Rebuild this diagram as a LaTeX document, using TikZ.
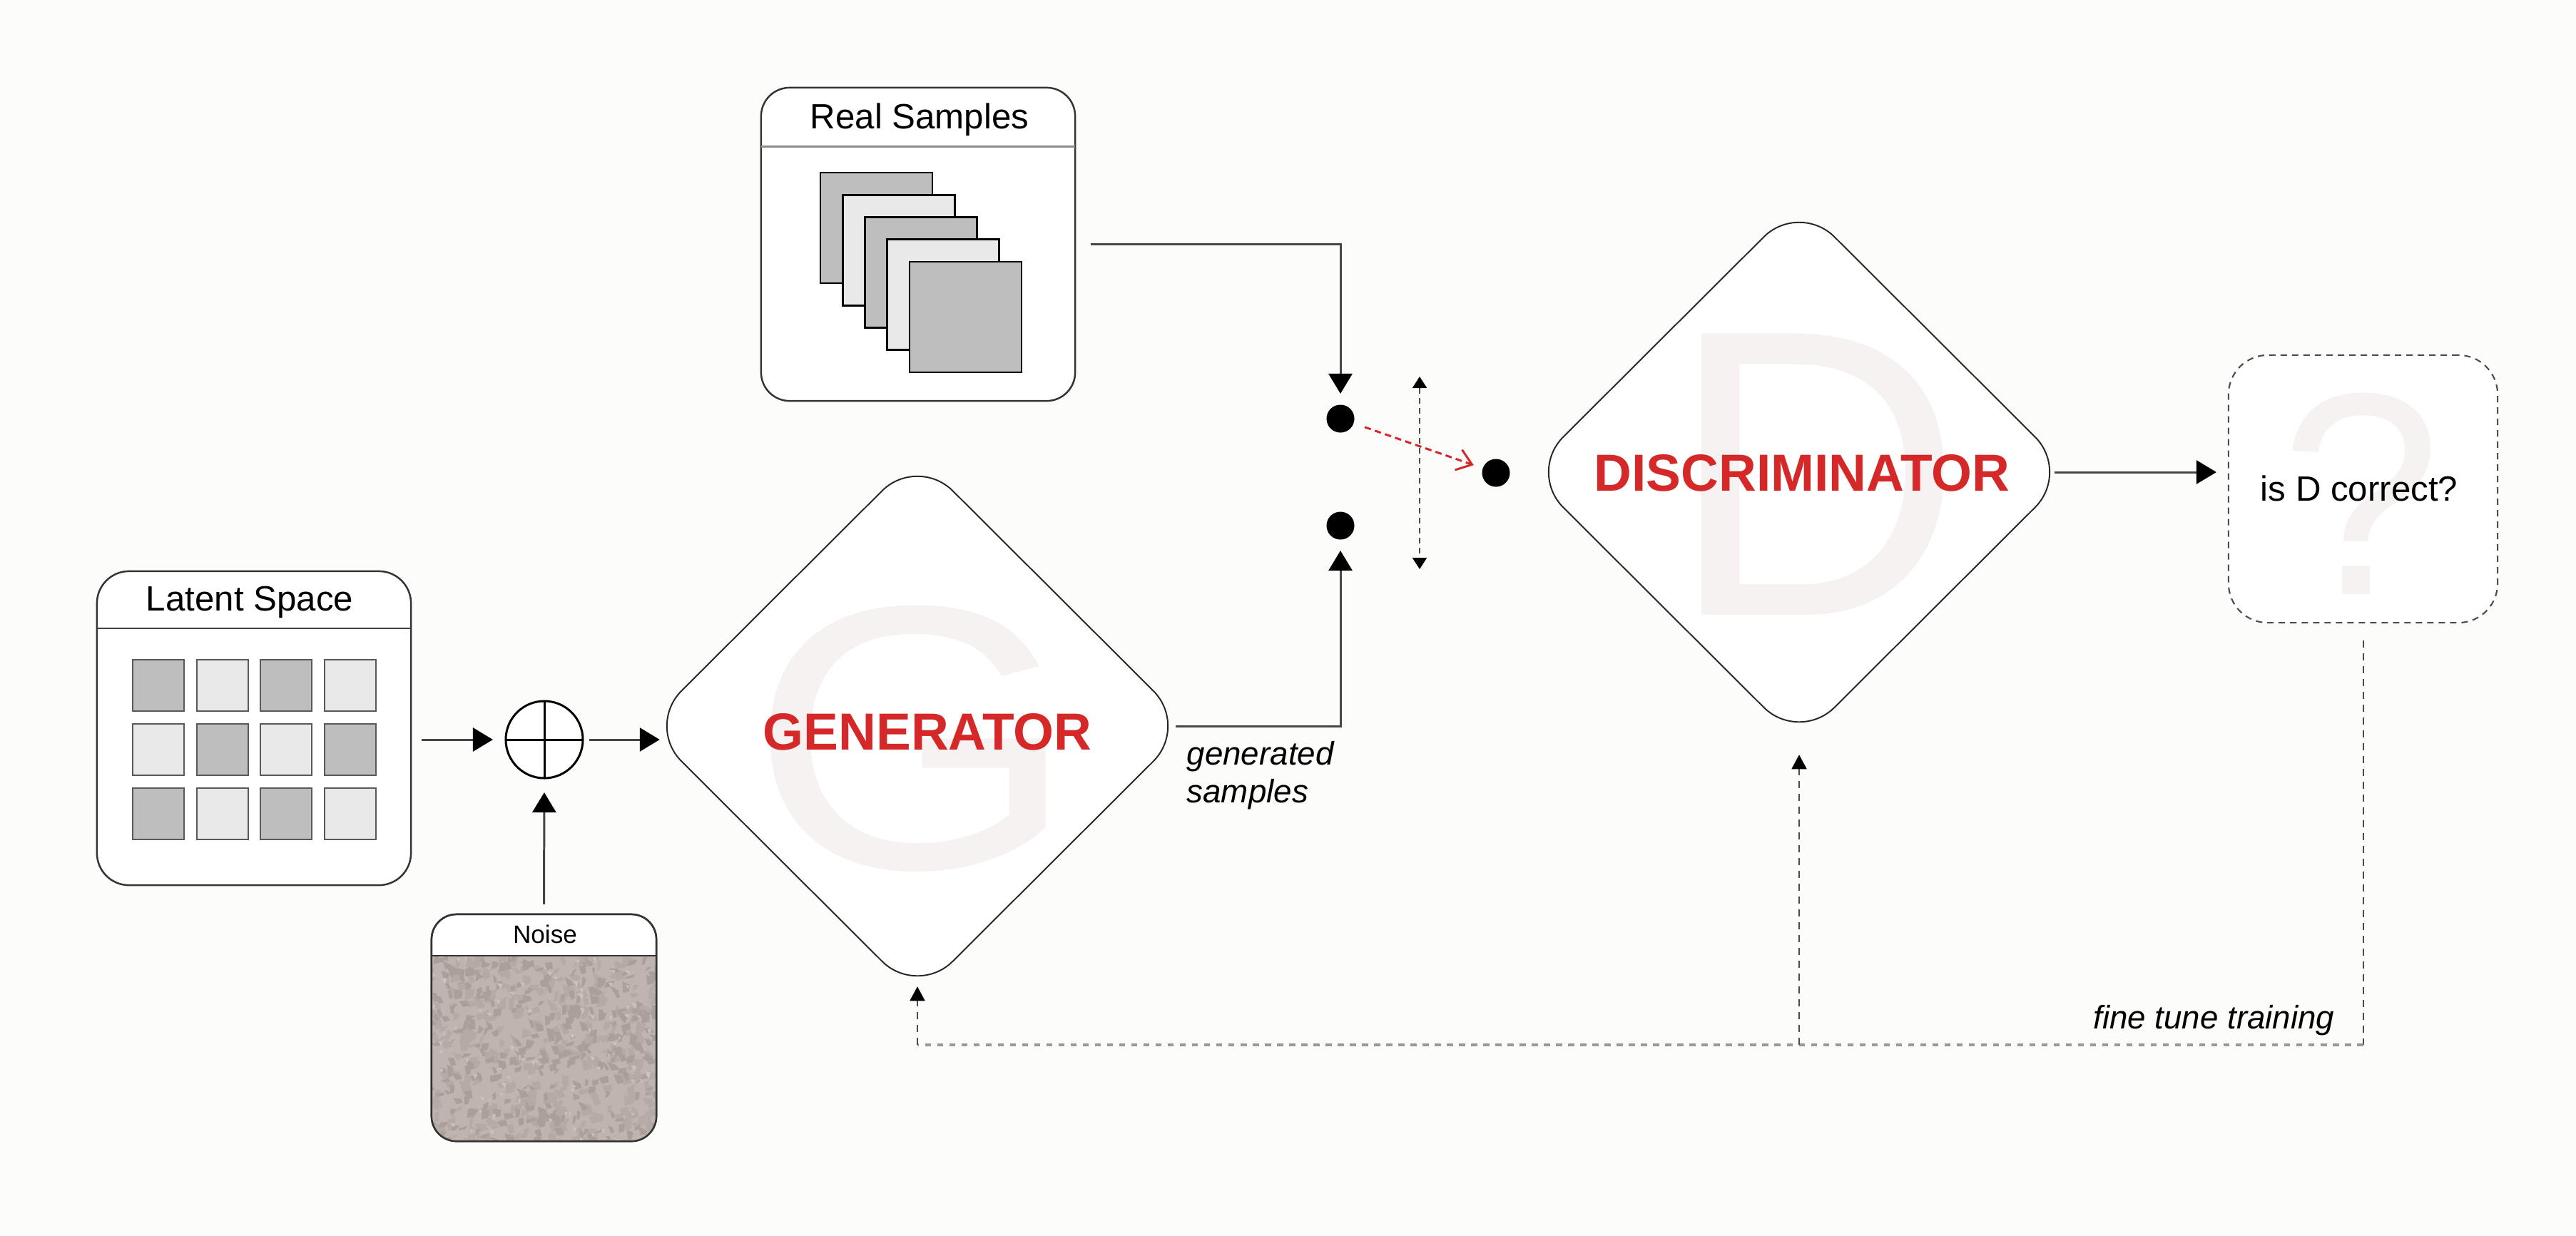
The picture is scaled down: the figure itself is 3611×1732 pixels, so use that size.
\documentclass[tikz,border=0pt]{standalone}
\usepackage{fontspec}
\setmainfont{Liberation Sans}
\usetikzlibrary{arrows.meta,shapes.geometric}
\definecolor{bgc}{RGB}{252,252,251}
\definecolor{redc}{RGB}{213,41,41}
\definecolor{ghost}{RGB}{245,242,241}
\definecolor{sdark}{RGB}{190,190,190}
\definecolor{slight}{RGB}{233,233,233}
\definecolor{nbase}{RGB}{191,180,174}
\definecolor{nmid}{RGB}{181,170,164}
\definecolor{ndark}{RGB}{171,159,153}
\definecolor{nlight}{RGB}{204,195,190}
\definecolor{linec}{RGB}{70,70,70}
\begin{document}
\begin{tikzpicture}[x=0.01cm,y=-0.01cm,
  panel/.style={draw=black!80, line width=0.7pt, fill=white, rounded corners=0.4cm, inner sep=0pt, outer sep=0pt},
  gan/.style={diamond, draw=black!85, line width=0.55pt, fill=white, rounded corners=0.7cm, minimum width=7.6cm, minimum height=7.58cm, inner sep=0pt, outer sep=0pt},
  conn/.style={draw=linec, line width=0.85pt, -{Triangle[length=0.28cm,width=0.33cm,color=black]}},
  dot/.style={circle, fill=black, minimum size=0.39cm, inner sep=0pt, outer sep=0pt},
  ghostL/.style={text=ghost, inner sep=0pt, anchor=base},
  title/.style={font=\fontsize{14}{16}\selectfont, inner sep=0pt, anchor=base},
  bigT/.style={font=\fontsize{20.8}{24}\selectfont\bfseries, text=redc, inner sep=0pt, anchor=base},
  lab/.style={font=\fontsize{13}{15}\selectfont\itshape, inner sep=0pt},
  fbv/.style={draw=black!70, line width=0.55pt, dash pattern=on 0.1cm off 0.08cm},
  fbh/.style={draw=black!40, line width=1.1pt, dash pattern=on 0.085cm off 0.085cm},
  fbarr/.style={fbv, -{Triangle[length=0.2cm,width=0.21cm,color=black]}},
  swarr/.style={draw=black!70, line width=0.6pt, dash pattern=on 0.08cm off 0.06cm,
     {Triangle[length=0.16cm,width=0.2cm,color=black]}-{Triangle[length=0.16cm,width=0.2cm,color=black]}},
  redarr/.style={draw=redc, line width=0.85pt, dash pattern=on 0.09cm off 0.06cm, -{Straight Barb[length=0.2cm,width=0.3cm]}},
  sheet/.style={draw=black, line width=0.8pt},
  cell/.style={draw=black!65, line width=0.6pt}
]
\fill[bgc] (0,0) rectangle (3611,1732);
\path[use as bounding box] (0,0) rectangle (3611,1732);

% ---------- Real samples ----------
\node[panel, minimum width=4.4cm, minimum height=4.39cm] (real) at (1287,342.5) {};
\draw[draw=black!45, line width=0.85pt] (real.west |- 0,205) -- (real.east |- 0,205);
\node[title] (realT) at (1289,180) {Real Samples};
\foreach \i/\c in {0/sdark,1/slight,2/sdark,3/slight,4/sdark}{
  \draw[sheet, fill=\c] (1150+31.25*\i, 242+31.25*\i) rectangle ++(157,155);
}

% ---------- Latent space ----------
\node[panel, rounded corners=0.45cm, minimum width=4.4cm, minimum height=4.4cm] (latent) at (356,1021) {};
\draw[black!75, line width=0.6pt] (latent.west |- 0,881) -- (latent.east |- 0,881);
\node[title] (latentT) at (350,856) {Latent Space};
\foreach \c/\r/\col in {0/0/sdark,1/0/slight,2/0/sdark,3/0/slight,
                        0/1/slight,1/1/sdark,2/1/slight,3/1/sdark,
                        0/2/sdark,1/2/slight,2/2/sdark,3/2/slight}{
  \draw[cell, fill=\col] (186+89.7*\c, 925+90*\r) rectangle ++(72,72);
}

% ---------- Sum node ----------
\node[circle, draw=black, line width=0.85pt, fill=white, minimum size=1.08cm, inner sep=0pt, outer sep=0pt] (plus) at (763,1037) {};
\draw[black, line width=0.85pt] (plus.north) -- (plus.south) (plus.west) -- (plus.east);

% ---------- Noise ----------
\node[panel, rounded corners=0.35cm, minimum width=3.15cm, minimum height=3.18cm] (noise) at (762.5,1441) {};
\begin{scope}
  \clip[rounded corners=0.35cm] (noise.north west) rectangle (noise.south east);
  \clip (noise.west |- 0,1340) rectangle (noise.south east);
  \fill[nbase] (noise.west |- 0,1340) rectangle (noise.south east);
  \pgfmathsetseed{2024}
  \foreach \k in {1,...,320}{
    \pgfmathsetmacro{\px}{598+330*rnd}
    \pgfmathsetmacro{\py}{1335+270*rnd}
    \pgfmathsetmacro{\ax}{5+11*rnd}
    \pgfmathsetmacro{\ay}{(rnd-0.5)*12}
    \pgfmathsetmacro{\bx}{(rnd-0.5)*12}
    \pgfmathsetmacro{\by}{4+10*rnd}
    \fill[nmid] (\px,\py) -- ++(\ax,\ay) -- ++(\bx,\by) -- ++(-0.8*\ax,3) -- cycle;
  }
  \foreach \k in {1,...,330}{
    \pgfmathsetmacro{\px}{598+330*rnd}
    \pgfmathsetmacro{\py}{1335+270*rnd}
    \pgfmathsetmacro{\ax}{4+9*rnd}
    \pgfmathsetmacro{\ay}{(rnd-0.5)*10}
    \pgfmathsetmacro{\bx}{(rnd-0.5)*10}
    \pgfmathsetmacro{\by}{3+8*rnd}
    \fill[ndark] (\px,\py) -- ++(\ax,\ay) -- ++(\bx,\by) -- ++(-0.8*\ax,2) -- cycle;
  }
  \foreach \k in {1,...,90}{
    \pgfmathsetmacro{\px}{598+330*rnd}
    \pgfmathsetmacro{\py}{1335+270*rnd}
    \pgfmathsetmacro{\ax}{3+5*rnd}
    \pgfmathsetmacro{\by}{3+5*rnd}
    \fill[nlight] (\px,\py) -- ++(\ax,1) -- ++(-2,\by) -- cycle;
  }
\end{scope}
\draw[black!80, line width=0.7pt, rounded corners=0.35cm] (noise.north west) rectangle (noise.south east);
\draw[black!80, line width=0.6pt] (noise.west |- 0,1340) -- (noise.east |- 0,1340);
\node[font=\fontsize{10}{12}\selectfont, inner sep=0pt, anchor=base] (noiseT) at (764,1322) {Noise};

% ---------- Generator ----------
\node[gan] (gen) at (1286,1018) {};
\node[ghostL, font=\fontsize{150}{150}\selectfont, xscale=1.12] (genG) at (1280,1217) {G};
\node[bigT] (genT) at (1300,1051) {GENERATOR};

% ---------- Discriminator ----------
\node[gan] (disc) at (2522,662) {};
\node[ghostL, font=\fontsize{163}{163}\selectfont] (discD) at (2545,862) {D};
\node[bigT] (discT) at (2526,688) {DISCRIMINATOR};

% ---------- Switch ----------
\node[dot] (dot1) at (1879,587) {};
\node[dot] (dot2) at (1879,737) {};
\node[dot] (dot3) at (2097,663) {};
\coordinate (swTop) at (1990,528);
\coordinate (swBot) at (1990,798);
\draw[swarr] (swTop) -- (swBot);
\draw[redarr, shorten <=0.165cm, shorten >=0.135cm] (dot1) -- (dot3);

% ---------- Question ----------
\node[panel, draw=black!70, line width=0.6pt, dash pattern=on 0.09cm off 0.07cm, rounded corners=0.55cm,
      minimum width=3.77cm, minimum height=3.75cm] (q) at (3312.5,685.5) {};
\node[ghostL, font=\fontsize{115}{115}\selectfont] (qmark) at (3310,833) {?};
\node[title] (qT) at (3307,702) {is D correct?};

% ---------- Connectors ----------
\draw[conn, shorten <=0.22cm, shorten >=0.155cm] (real.east) -| (dot1.north);
\draw[conn, shorten <=-0.18cm, shorten >=0.155cm] (gen.east) -| (dot2.south);
\draw[conn, shorten <=0.15cm, shorten >=0.18cm] (latent.east |- plus.west) -- (plus.west);
\draw[conn, shorten <=0.09cm, shorten >=-0.19cm] (plus.east) -- (plus.east -| gen.west);
\draw[conn, shorten <=0.14cm, shorten >=0.2cm] (noise.north) -- (plus.south);
\draw[conn, shorten <=-0.22cm, shorten >=0.17cm] (disc.east) -- (disc.east -| q.west);

% ---------- Feedback ----------
\coordinate (fbR) at (q.south |- 0,1465);
\coordinate (fbL) at (gen.south |- 0,1465);
\coordinate (fbM) at (disc.south |- 0,1465);
\draw[fbv, shorten <=0.25cm] (q.south) -- (fbR);
\draw[fbh] (fbR) -- (fbL);
\draw[fbarr, shorten >=-0.14cm] (fbL) -- (gen.south);
\draw[fbarr, shorten >=0.17cm] (fbM) -- (disc.south);

% ---------- Labels ----------
\node[lab, anchor=base west] (genLab1) at (1663,1072) {generated};
\node[lab, anchor=base west] (genLab2) at (1663,1125) {samples};
\node[lab, anchor=base east] (fineLab) at (3273,1442) {fine tune training};
\end{tikzpicture}
\end{document}
